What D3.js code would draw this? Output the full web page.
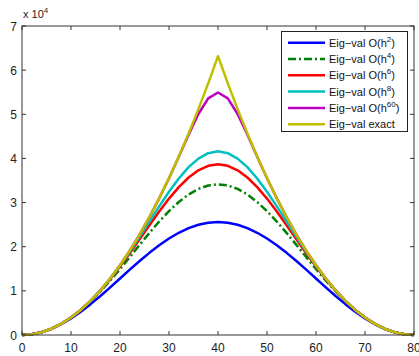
<!DOCTYPE html>
<html><head><meta charset="utf-8">
<script src="https://cdn.jsdelivr.net/npm/d3@7"></script>
<style>body{margin:0;background:#fff}svg{display:block}text{font-family:"Liberation Sans",Arial,Helvetica,sans-serif}</style>
</head><body>
<svg id="c" width="419" height="356"></svg>
<script>
const xs = [0,2,4,6,8,10,12,14,16,18,20,22,24,26,28,30,32,34,36,38,40,42,44,46,48,50,52,54,56,58,60,62,64,66,68,70,72,74,76,78,80];
const eigH2  = [0,158,627,1395,2445,3749,5276,6989,8845,10798,12800,14802,16755,18611,20324,21851,23155,24205,24974,25442,25600,25442,24974,24205,23155,21851,20324,18611,16755,14802,12800,10798,8845,6989,5276,3749,2445,1395,627,158,0];
const eigH4  = [0,158,632,1421,2522,3932,5639,7625,9863,12316,14933,17655,20411,23121,25702,28068,30137,31834,33094,33871,34133,33871,33094,31834,30137,28068,25702,23121,20411,17655,14933,12316,9863,7625,5639,3932,2522,1421,632,158,0];
const eigH6  = [0,158,632,1421,2526,3946,5679,7718,10051,12657,15502,18535,21687,24870,27979,30898,33505,35680,37319,38339,38684,38339,37319,35680,33505,30898,27979,24870,21687,18535,15502,12657,10051,7718,5679,3946,2526,1421,632,158,0];
const eigH8  = [0,158,632,1421,2527,3948,5684,7734,10093,12750,15685,18862,22224,25687,29141,32451,35463,38019,39969,41193,41610,41193,39969,38019,35463,32451,29141,25687,22224,18862,15685,12750,10093,7734,5684,3948,2527,1421,632,158,0];
const eigH60 = [0,158,632,1421,2527,3948,5685,7738,10107,12791,15791,19108,22740,26687,30951,35525,40381,45376,50073,53596,54938,53596,50073,45376,40381,35525,30951,26687,22740,19108,15791,12791,10107,7738,5685,3948,2527,1421,632,158,0];
const eigExact = [0,158,632,1421,2527,3948,5685,7738,10107,12791,15791,19108,22740,26687,30951,35531,40426,45637,51164,57007,63166,57007,51164,45637,40426,35531,30951,26687,22740,19108,15791,12791,10107,7738,5685,3948,2527,1421,632,158,0];
const xTicks = [0,10,20,30,40,50,60,70,80];
const yTicks = [0,1,2,3,4,5,6,7];
const seriesNames = ["Eig−val O(h|2|)","Eig−val O(h|4|)","Eig−val O(h|6|)","Eig−val O(h|8|)","Eig−val O(h|60|)","Eig−val exact"];

const series = [
  {name:seriesNames[0], values:eigH2, color:"#0000ff", dash:null},
  {name:seriesNames[1], values:eigH4, color:"#008000", dash:"8,3,2,3"},
  {name:seriesNames[2], values:eigH6, color:"#ff0000", dash:null},
  {name:seriesNames[3], values:eigH8, color:"#00bfbf", dash:null},
  {name:seriesNames[4], values:eigH60, color:"#bf00bf", dash:null},
  {name:seriesNames[5], values:eigExact, color:"#bfbf00", dash:null}
];

const L=22, R=414, T=26, B=335;
const svg = d3.select("#c");
const x = d3.scaleLinear().domain([0,80]).range([L,R]);
const y = d3.scaleLinear().domain([0,7e4]).range([B,T]);

const g = svg.append("g");
const line = d3.line().x((d,i)=>x(xs[i])).y(d=>y(d));
series.forEach(s=>{
  g.append("path").datum(s.values).attr("d",line)
   .attr("fill","none").attr("stroke",s.color).attr("stroke-width",2.5)
   .attr("stroke-dasharray",s.dash).attr("stroke-linejoin","round");
});

// axes box and ticks (inside)
const ax = svg.append("g").attr("stroke","#333").attr("stroke-width",1);
ax.append("rect").attr("x",L).attr("y",T).attr("width",R-L).attr("height",B-T).attr("fill","none");
const tl=4;
xTicks.forEach(t=>{
  ax.append("line").attr("x1",x(t)).attr("x2",x(t)).attr("y1",B).attr("y2",B-tl);
  ax.append("line").attr("x1",x(t)).attr("x2",x(t)).attr("y1",T).attr("y2",T+tl);
});
yTicks.forEach(t=>{
  ax.append("line").attr("x1",L).attr("x2",L+tl).attr("y1",y(t*1e4)).attr("y2",y(t*1e4));
  ax.append("line").attr("x1",R).attr("x2",R-tl).attr("y1",y(t*1e4)).attr("y2",y(t*1e4));
});
svg.append("g").selectAll("text").data(xTicks).join("text")
  .attr("x",d=>x(d)).attr("y",352).attr("text-anchor","middle").attr("font-size",12).attr("fill","#222").text(d=>d);
svg.append("g").selectAll("text").data(yTicks).join("text")
  .attr("x",L-5).attr("y",d=>y(d*1e4)+4.5).attr("text-anchor","end").attr("font-size",12).attr("fill","#222").text(d=>d);
const ex = svg.append("text").attr("x",L+1).attr("y",18).attr("font-size",11).attr("fill","#222");
ex.append("tspan").text("x 10");
ex.append("tspan").attr("dy",-5).attr("font-size",8).text("4");

// legend
const lg = svg.append("g");
lg.append("rect").attr("x",281.5).attr("y",31.5).attr("width",126).attr("height",100).attr("fill","#fff").attr("stroke","#222");
series.forEach((s,i)=>{
  const yy = 42.7 + i*16.3;
  lg.append("line").attr("x1",288).attr("x2",325).attr("y1",yy).attr("y2",yy)
    .attr("stroke",s.color).attr("stroke-width",2.5).attr("stroke-dasharray",s.dash);
  const parts = s.name.split("|");
  const t = lg.append("text").attr("x",329).attr("y",yy+4).attr("font-size",11).attr("fill","#111");
  t.append("tspan").text(parts[0]);
  if(parts.length>1){
    t.append("tspan").attr("dy",-5).attr("font-size",8).text(parts[1]);
    t.append("tspan").attr("dy",5).text(parts[2]);
  }
});
</script>
</body></html>
